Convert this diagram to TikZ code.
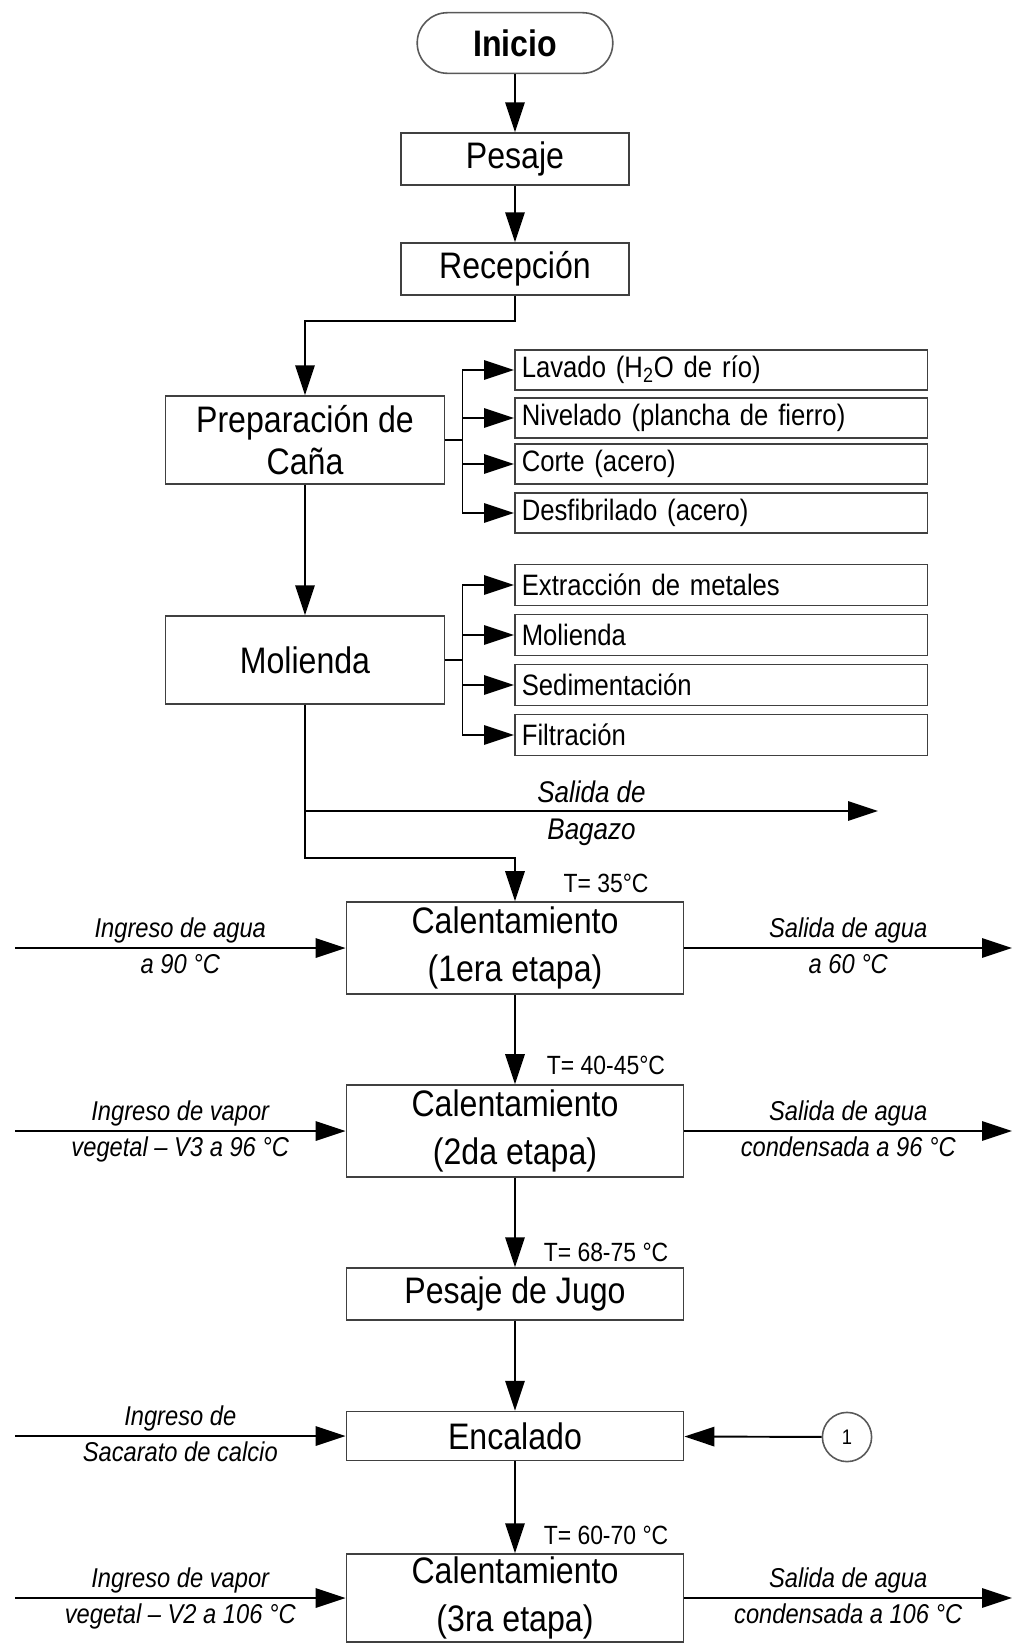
\documentclass[tikz,border=0pt]{standalone}
\usepackage{fontspec}
\setmainfont{Liberation Sans}[FakeStretch=0.87]
\usetikzlibrary{arrows.meta,shapes.misc}

\begin{document}
\begin{tikzpicture}[x=0.02cm,y=-0.02cm,
    flow/.style={line width=1.1pt,-{Triangle[length=17pt,width=11pt]}},
    box/.style={draw=black!75,line width=0.9pt,align=center,inner sep=1pt,
        font=\fontsize{21}{24}\selectfont},
    calbox/.style={box,minimum width=192pt,minimum height=52.5pt,
        font=\fontsize{21}{27}\selectfont},
    subbox/.style={draw=black!75,line width=0.9pt,anchor=west,minimum height=22.5pt,
        text width=227pt,inner xsep=4pt,align=left,font=\fontsize{16.8}{18}\selectfont},
    side/.style={font=\itshape\fontsize{15.5}{17}\selectfont,inner sep=1pt},
    temp/.style={font=\fontsize{15}{17}\selectfont,inner sep=1pt}]
    \useasboundingbox (0,0) rectangle (1013,1644);

    %% main column
    \node[rounded rectangle,draw=black!65,line width=0.9pt,minimum width=118pt,
        minimum height=34.5pt,font=\bfseries\fontsize{21}{24}\selectfont] (inicio) at (515,43) {Inicio};
    \node[box,minimum width=130pt,minimum height=29.5pt] (pesaje) at (515,159) {Pesaje};
    \node[box,minimum width=130pt,minimum height=29.5pt] (recep) at (515,269) {Recepción};
    \node[box,minimum width=159pt,minimum height=50pt] (prep) at (305,440) {Preparación de\\Caña};
    \node[box,minimum width=159pt,minimum height=50pt] (mol) at (305,660) {Molienda};
    \node[calbox] (cal1) at (515,948) {Calentamiento\\(1era etapa)};
    \node[calbox] (cal2) at (515,1131) {Calentamiento\\(2da etapa)};
    \node[box,minimum width=192pt,minimum height=29.5pt] (jugo) at (515,1294) {Pesaje de Jugo};
    \node[box,minimum width=192pt,minimum height=28pt] (encal) at (515,1436) {Encalado};
    \node[calbox,minimum height=50pt] (cal3) at (515,1598) {Calentamiento\\(3ra etapa)};

    \draw[flow] (inicio) -- (pesaje);
    \draw[flow] (pesaje) -- (recep);
    \draw[flow] (recep.south) -- ++(0,25) -| (prep.north);
    \draw[flow] (prep) -- (mol);

    %% sub steps
    \node[subbox] (lav) at (514,370) {Lavado (H\textsubscript{2}O de río)};
    \node[subbox] (niv) at (514,418) {Nivelado (plancha de fierro)};
    \node[subbox] (cor) at (514,464) {Corte (acero)};
    \node[subbox] (des) at (514,513) {Desfibrilado (acero)};
    \node[subbox,minimum height=23.5pt] (ext) at (514,585) {Extracción de metales};
    \node[subbox,minimum height=23.5pt] (msub) at (514,635) {Molienda};
    \node[subbox,minimum height=23.5pt] (sed) at (514,685) {Sedimentación};
    \node[subbox,minimum height=23.5pt] (fil) at (514,735) {Filtración};

    \draw[line width=1.1pt] (prep.east) -- ++(17,0) coordinate (b1);
    \foreach \n in {lav,niv,cor,des}
        \draw[flow] (b1) |- (\n.west);
    \draw[line width=1.1pt] (mol.east) -- ++(17,0) coordinate (b2);
    \foreach \n in {ext,msub,sed,fil}
        \draw[flow] (b2) |- (\n.west);

    %% bagazo
    \coordinate (bgout) at (878,811);
    \draw[flow] (mol.south) |- (bgout)
        node[pos=0.75,above=3pt,side,font=\itshape\fontsize{17}{19}\selectfont] (bg1) {Salida de}
        node[pos=0.75,below=3pt,side,font=\itshape\fontsize{17}{19}\selectfont] (bg2) {Bagazo};
    \draw[flow] (mol.south) -- ++(0,153) -| (cal1.north);

    \draw[flow] (cal1) -- (cal2);
    \draw[flow] (cal2) -- (jugo);
    \draw[flow] (jugo) -- (encal);
    \draw[flow] (encal) -- (cal3);

    %% temperatures
    \node[temp] (t1) at (606,883) {T= 35°C};
    \node[temp] (t2) at (606,1065) {T= 40-45°C};
    \node[temp] (t3) at (606,1252) {T= 68-75 °C};
    \node[temp] (t4) at (606,1535) {T= 60-70 °C};

    %% side streams
    \coordinate (in1) at (15,948);
    \coordinate (out1) at (1012,948);
    \coordinate (in2) at (15,1131);
    \coordinate (out2) at (1012,1131);
    \coordinate (in3) at (15,1436);
    \coordinate (in4) at (15,1598);
    \coordinate (out4) at (1012,1598);
    \draw[flow] (in1) -- (cal1)
        node[midway,above=1.5pt,side] (l1a) {Ingreso de agua}
        node[midway,below=2pt,side] (l1b) {a 90 °C};
    \draw[flow] (cal1) -- (out1)
        node[midway,above=1.5pt,side] (r1a) {Salida de agua}
        node[midway,below=2pt,side] (r1b) {a 60 °C};
    \draw[flow] (in2) -- (cal2)
        node[midway,above=1.5pt,side] (l2a) {Ingreso de vapor}
        node[midway,below=2pt,side] (l2b) {vegetal – V3 a 96 °C};
    \draw[flow] (cal2) -- (out2)
        node[midway,above=1.5pt,side] (r2a) {Salida de agua}
        node[midway,below=2pt,side] (r2b) {condensada a 96 °C};
    \draw[flow] (in3) -- (encal)
        node[midway,above=1.5pt,side] (l3a) {Ingreso de}
        node[midway,below=2pt,side] (l3b) {Sacarato de calcio};
    \draw[flow] (in4) -- (cal3)
        node[midway,above=1.5pt,side] (l4a) {Ingreso de vapor}
        node[midway,below=2pt,side] (l4b) {vegetal – V2 a 106 °C};
    \draw[flow] (cal3) -- (out4)
        node[midway,above=1.5pt,side] (r4a) {Salida de agua}
        node[midway,below=2pt,side] (r4b) {condensada a 106 °C};

    %% connector 1
    \node[circle,draw=black!65,line width=0.9pt,minimum size=28pt,inner sep=0pt,
        font=\fontsize{12}{14}\selectfont] (c1) at (847,1437) {1};
    \draw[flow] (c1) -- (encal);
\end{tikzpicture}
\end{document}
